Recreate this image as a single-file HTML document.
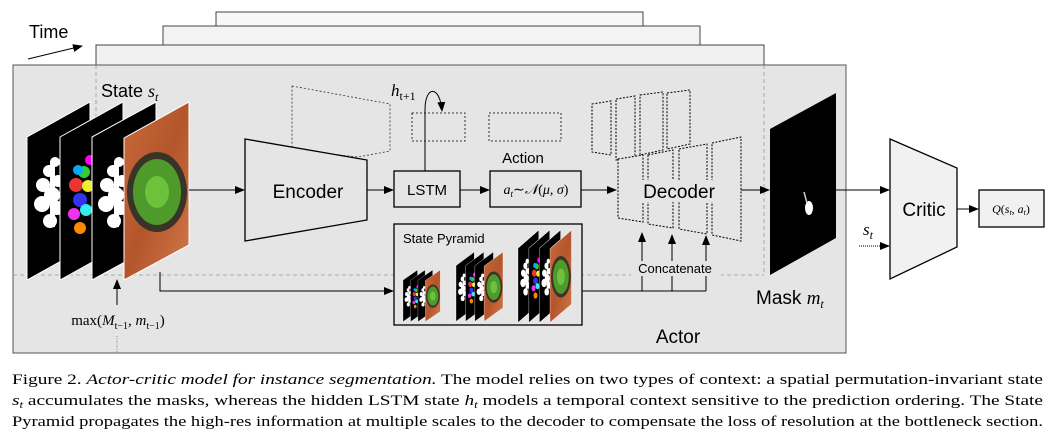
<!DOCTYPE html>
<html><head><meta charset="utf-8"><style>
html,body{margin:0;padding:0;background:#fff;width:1055px;height:446px;overflow:hidden}
svg{display:block}
text{font-family:"Liberation Sans",sans-serif}
.m{font-family:"Liberation Serif",serif;font-style:italic}
.c{font-family:"Liberation Serif",serif;font-size:15px}
</style></head><body>
<svg width="1055" height="446" viewBox="0 0 1055 446" xmlns="http://www.w3.org/2000/svg">
<defs>
<marker id="ar" markerWidth="10" markerHeight="8" refX="9" refY="4" orient="auto" markerUnits="userSpaceOnUse"><path d="M0,0 L10,4 L0,8 Z" fill="#000"/></marker>
<linearGradient id="or" x1="0" y1="0" x2="1" y2="1"><stop offset="0" stop-color="#c96a3a"/><stop offset="0.5" stop-color="#b4552b"/><stop offset="1" stop-color="#d27a4a"/></linearGradient>
<g id="blob">
<rect x="-2" y="-34" width="5" height="66"/>
<circle cx="0" cy="0" r="8"/><circle cx="-9" cy="-10" r="7"/><circle cx="6" cy="-14" r="6"/><circle cx="-10" cy="9" r="8"/><circle cx="5" cy="13" r="7"/><circle cx="-2" cy="26" r="7"/><circle cx="-3" cy="-24" r="6"/><circle cx="3" cy="-33" r="5"/>
</g>
<g id="stack">
<polygon points="27,137 90,102 90,245 27,280" fill="#000" stroke="#fff" stroke-width="1"/>
<use href="#blob" x="52" y="195" fill="#fff"/>
<polygon points="60,137 123,102 123,245 60,280" fill="#000" stroke="#fff" stroke-width="1"/>
<circle cx="76" cy="185" r="7" fill="#e33"/><circle cx="84" cy="172" r="6" fill="#3c3"/><circle cx="80" cy="200" r="7" fill="#33e"/><circle cx="88" cy="186" r="6" fill="#ee3"/><circle cx="74" cy="214" r="6" fill="#e3e"/><circle cx="86" cy="210" r="6" fill="#3ee"/><circle cx="80" cy="228" r="6" fill="#f80"/><circle cx="90" cy="160" r="5" fill="#f0f"/><circle cx="78" cy="170" r="5" fill="#0af"/>
<polygon points="92,137 156,102 156,245 92,280" fill="#000" stroke="#fff" stroke-width="1"/>
<use href="#blob" x="116" y="195" fill="#fff"/>
<polygon points="124,138 189,102 189,245 124,280" fill="url(#or)" stroke="#fff" stroke-width="1"/>
<ellipse cx="157" cy="192" rx="30" ry="40" fill="#3a3328"/>
<ellipse cx="157" cy="192" rx="24" ry="33" fill="#4e9a2a"/>
<ellipse cx="157" cy="192" rx="12" ry="16" fill="#6cc23a"/>
</g>
</defs>
<rect x="216" y="12" width="427" height="60" fill="#f7f7f7" stroke="#444" stroke-width="1"/>
<rect x="163" y="26" width="537" height="60" fill="#f3f3f3" stroke="#444" stroke-width="1"/>
<rect x="96" y="45" width="668" height="60" fill="#f1f1f1" stroke="#444" stroke-width="1"/>
<rect x="13" y="65" width="833" height="288" fill="#e5e5e5" stroke="#555" stroke-width="1"/>
<path d="M96,65 V275 M13,275 H764 M764,65 V275" fill="none" stroke="#999" stroke-dasharray="4,3" stroke-width="0.8"/>
<text x="29" y="38" font-size="18">Time</text>
<line x1="28" y1="59" x2="82" y2="46" stroke="#000" marker-end="url(#ar)"/>
<text x="101" y="97" font-size="18">State <tspan class="m">s</tspan><tspan class="m" font-size="12" dy="4">t</tspan></text>
<use href="#stack"/>
<polygon points="292,86 390,104 390,151 358,157 292,150" fill="none" stroke="#333" stroke-dasharray="2,2" stroke-width="0.8"/>
<line x1="189" y1="190" x2="244" y2="190" stroke="#000" marker-end="url(#ar)"/>
<polygon points="245,139 367,160 367,220 245,241" fill="#e5e5e5" stroke="#000" stroke-width="1.3"/>
<text x="308" y="198" font-size="19" text-anchor="middle">Encoder</text>
<line x1="367" y1="190" x2="393" y2="190" stroke="#000" marker-end="url(#ar)"/>
<rect x="394" y="171" width="66" height="36" fill="#e5e5e5" stroke="#000" stroke-width="1.3"/>
<text x="427" y="195" font-size="15" text-anchor="middle">LSTM</text>
<rect x="412" y="113" width="53" height="28" fill="none" stroke="#000" stroke-dasharray="2,2" stroke-width="0.8"/>
<rect x="489" y="113" width="72" height="28" fill="none" stroke="#000" stroke-dasharray="2,2" stroke-width="0.8"/>
<path d="M425,171 V110 C425,85 440,85 442,111" fill="none" stroke="#000" marker-end="url(#ar)"/>
<text x="391" y="96" class="m" font-size="17">h<tspan font-size="12" dy="4" font-style="normal">t+1</tspan></text>
<line x1="460" y1="190" x2="489" y2="190" stroke="#000" marker-end="url(#ar)"/>
<text x="523" y="163" font-size="15" text-anchor="middle">Action</text>
<rect x="490" y="171" width="91" height="36" fill="#e5e5e5" stroke="#000" stroke-width="1.3"/>
<text x="536" y="194" class="m" font-size="14" text-anchor="middle">a<tspan font-size="9" dy="3">t</tspan><tspan dy="-3" font-style="normal">∼</tspan>𝒩<tspan font-style="normal">(</tspan>μ<tspan font-style="normal">,</tspan> σ<tspan font-style="normal">)</tspan></text>
<line x1="581" y1="190" x2="616" y2="190" stroke="#000" marker-end="url(#ar)"/>
<g fill="none" stroke="#000" stroke-dasharray="2,1.5" stroke-width="1">
<polygon points="592,104 611,101 611,155 592,152"/>
<polygon points="616,99 635,96 635,157 616,160"/>
<polygon points="640,95 663,92 663,150 640,155"/>
<polygon points="667,93 690,90 690,144 667,149"/>
<polygon points="618,159 643,155 643,222 618,218" fill="#e5e5e5"/>
<polygon points="648,155 673,150 673,228 648,224" fill="#e5e5e5"/>
<polygon points="679,149 707,144 707,234 679,229" fill="#e5e5e5"/>
<polygon points="712,143 741,137 741,241 712,235" fill="#e5e5e5"/>
</g>
<rect x="638" y="180" width="82" height="22" fill="#e5e5e5"/>
<text x="679" y="198" font-size="19" text-anchor="middle">Decoder</text>
<path d="M160,272 V291 H393" fill="none" stroke="#000" marker-end="url(#ar)"/>
<rect x="394" y="224" width="188" height="101" fill="#e5e5e5" stroke="#000" stroke-width="1.3"/>
<text x="403" y="243" font-size="13">State Pyramid</text>
<use href="#stack" transform="translate(403,270) scale(0.23,0.29) translate(-27,-102)"/>
<use href="#stack" transform="translate(456,252) scale(0.29,0.39) translate(-27,-102)"/>
<use href="#stack" transform="translate(518,230) scale(0.33,0.52) translate(-27,-102)"/>
<path d="M582,291 H706" fill="none" stroke="#000"/>
<path d="M642,291 V233" stroke="#000" marker-end="url(#ar)"/>
<path d="M672,291 V235" stroke="#000" marker-end="url(#ar)"/>
<path d="M706,291 V236" stroke="#000" marker-end="url(#ar)"/>
<rect x="631" y="261" width="90" height="15" fill="#e5e5e5"/>
<text x="675" y="273" font-size="13" text-anchor="middle">Concatenate</text>
<line x1="117" y1="305" x2="117" y2="280" stroke="#000" marker-end="url(#ar)"/>
<text x="118" y="325" class="c" text-anchor="middle" font-size="15"><tspan font-style="normal">max(</tspan><tspan font-style="italic">M</tspan><tspan font-size="10" dy="4">t−1</tspan><tspan dy="-4">, </tspan><tspan font-style="italic">m</tspan><tspan font-size="10" dy="4">t−1</tspan><tspan dy="-4">)</tspan></text>
<line x1="117" y1="336" x2="117" y2="352" stroke="#888" stroke-dasharray="1,1.5"/>
<line x1="741" y1="190" x2="769" y2="190" stroke="#000" marker-end="url(#ar)"/>
<polygon points="770,129 836,93 836,238 770,275" fill="#000"/>
<ellipse cx="809" cy="208" rx="4" ry="7" fill="#fff"/>
<line x1="804" y1="192" x2="807" y2="203" stroke="#ccc" stroke-width="1.5"/>
<text x="756" y="304" font-size="19">Mask <tspan class="m">m</tspan><tspan class="m" font-size="12" dy="4">t</tspan></text>
<text x="678" y="343" font-size="19" text-anchor="middle">Actor</text>
<line x1="836" y1="190" x2="889" y2="190" stroke="#000" marker-end="url(#ar)"/>
<polygon points="890,139 957,168 957,247 890,279" fill="#f1f1f1" stroke="#000" stroke-width="1.3"/>
<text x="924" y="216" font-size="19" text-anchor="middle">Critic</text>
<line x1="957" y1="209" x2="978" y2="209" stroke="#000" marker-end="url(#ar)"/>
<rect x="979" y="190" width="65" height="37" fill="#f1f1f1" stroke="#000" stroke-width="1.3"/>
<text x="1011" y="213" class="m" font-size="12" text-anchor="middle">Q<tspan font-style="normal">(</tspan>s<tspan font-size="8" dy="2">t</tspan><tspan dy="-2" font-style="normal">, </tspan>a<tspan font-size="8" dy="2">t</tspan><tspan dy="-2" font-style="normal">)</tspan></text>
<text x="863" y="235" class="m" font-size="17">s<tspan font-size="12" dy="4">t</tspan></text>
<line x1="859" y1="246" x2="889" y2="246" stroke="#000" stroke-dasharray="1,1" marker-end="url(#ar)"/>
<text class="c" x="12" y="384" textLength="1031" lengthAdjust="spacingAndGlyphs">Figure 2. <tspan font-style="italic">Actor-critic model for instance segmentation.</tspan> The model relies on two types of context: a spatial permutation-invariant state</text>
<text class="c" x="12" y="405" textLength="1031" lengthAdjust="spacingAndGlyphs"><tspan font-style="italic">s</tspan><tspan font-style="italic" font-size="10" dy="3">t</tspan><tspan dy="-3"> accumulates the masks, whereas the hidden LSTM state </tspan><tspan font-style="italic">h</tspan><tspan font-style="italic" font-size="10" dy="3">t</tspan><tspan dy="-3"> models a temporal context sensitive to the prediction ordering. The State</tspan></text>
<text class="c" x="12" y="426" textLength="1031" lengthAdjust="spacingAndGlyphs">Pyramid propagates the high-res information at multiple scales to the decoder to compensate the loss of resolution at the bottleneck section.</text>
</svg>
</body></html>
